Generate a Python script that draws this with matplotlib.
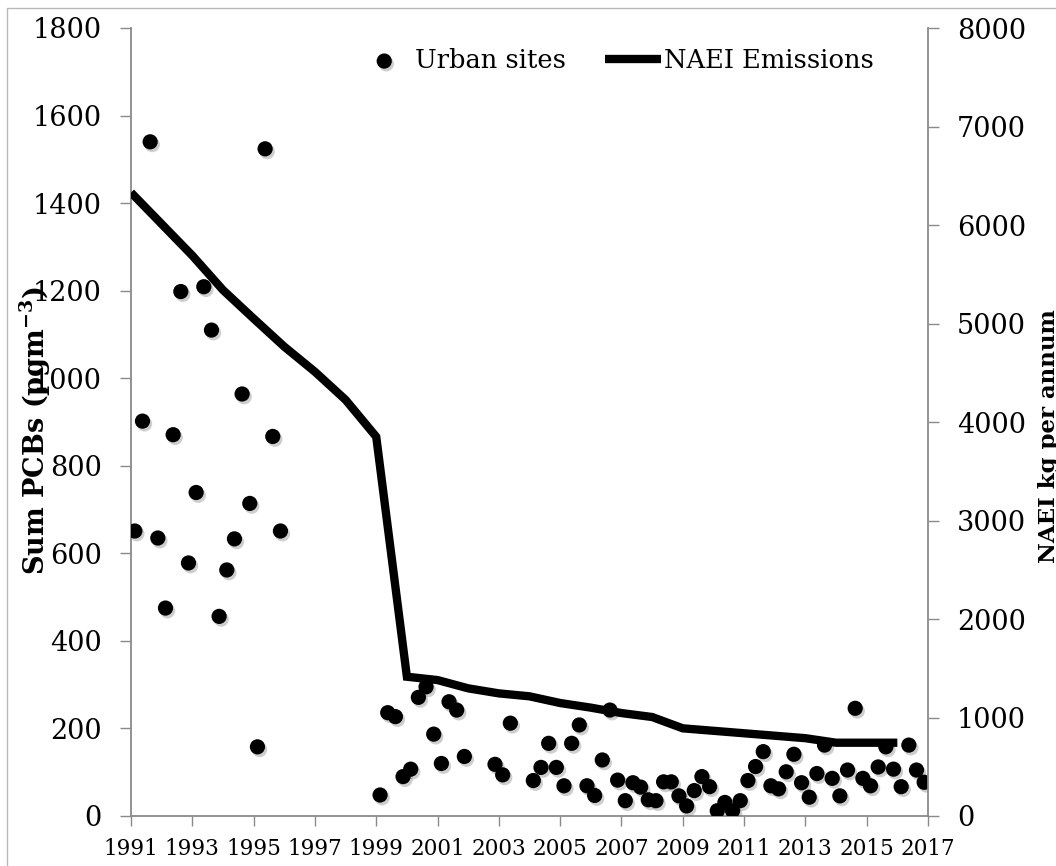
import matplotlib
matplotlib.use("Agg")
import matplotlib.pyplot as plt
import matplotlib.patheffects as pe
from matplotlib.patches import Rectangle

plt.rcParams['font.family'] = 'DejaVu Serif'
plt.rcParams['mathtext.fontset'] = 'dejavuserif'

# ── data ───────────────────────────────────────────────────────────────────────
# urban site samples, quarterly (decimal year of each quarter's midpoint)
urban_dates = [
    1991.125, 1991.375, 1991.625, 1991.875,
    1992.125, 1992.375, 1992.625, 1992.875,
    1993.125, 1993.375, 1993.625, 1993.875,
    1994.125, 1994.375, 1994.625, 1994.875,
    1995.125, 1995.375, 1995.625, 1995.875,
    1999.125, 1999.375, 1999.625, 1999.875,
    2000.125, 2000.375, 2000.625, 2000.875,
    2001.125, 2001.375, 2001.625, 2001.875,
    2002.875,
    2003.125, 2003.375,
    2004.125, 2004.375, 2004.625, 2004.875,
    2005.125, 2005.375, 2005.625, 2005.875,
    2006.125, 2006.375, 2006.625, 2006.875,
    2007.125, 2007.375, 2007.625, 2007.875,
    2008.125, 2008.375, 2008.625, 2008.875,
    2009.125, 2009.375, 2009.625, 2009.875,
    2010.125, 2010.375, 2010.625, 2010.875,
    2011.125, 2011.375, 2011.625, 2011.875,
    2012.125, 2012.375, 2012.625, 2012.875,
    2013.125, 2013.375, 2013.625, 2013.875,
    2014.125, 2014.375, 2014.625, 2014.875,
    2015.125, 2015.375, 2015.625, 2015.875,
    2016.125, 2016.375, 2016.625, 2016.875,
]
urban_pcb = [
    651, 902, 1540, 635,
    475, 871, 1198, 578,
    739, 1209, 1110, 456,
    562, 633, 964, 714,
    158, 1524, 867, 651,
    48, 236, 227, 90,
    107, 271, 295, 187,
    120, 261, 242, 136,
    118,
    94, 212,
    81, 111, 166, 111,
    69, 166, 208, 69,
    47, 128, 242, 82,
    35, 76, 66, 37,
    35, 78, 78, 46,
    23, 58, 90, 67,
    12, 31, 12, 35,
    81, 113, 147, 69,
    62, 101, 141, 76,
    43, 97, 162, 86,
    46, 105, 246, 86,
    69, 112, 158, 107,
    67, 162, 105, 77,
]

# NAEI emissions, kg per annum
naei_years = [1991, 1992, 1993, 1994, 1995, 1996, 1997, 1998, 1999, 2000,
              2001, 2002, 2003, 2004, 2005, 2006, 2007, 2008, 2009, 2010,
              2011, 2012, 2013, 2014, 2015, 2016]
naei_kg = [6330, 6010, 5690, 5340, 5050, 4765, 4510, 4225, 3850, 1414,
           1380, 1296, 1245, 1215, 1147, 1100, 1045, 1005, 890, 865,
           840, 815, 790, 744, 744, 744]

x_ticks = list(range(1991, 2018, 2))
left_ticks = list(range(0, 1801, 200))
right_ticks = list(range(0, 8001, 1000))

W, H = 1056, 866
AXIS_GREY = "#8a8a8a"

fig = plt.figure(figsize=(W / 100, H / 100), dpi=100)
ax = fig.add_axes([131 / W, 1 - 816 / H, 797 / W, 788 / H])
ax2 = ax.twinx()

# ── scatter (left axis) ────────────────────────────────────────────────────────
shadow = [pe.SimplePatchShadow(offset=(1.5, -2), shadow_rgbFace="0.45", alpha=0.35),
          pe.Normal()]
sc = ax.scatter(urban_dates, urban_pcb, s=120, color="black", linewidths=0,
                zorder=3, path_effects=shadow, label="Urban sites")

# ── emissions line (right axis) ───────────────────────────────────────────────
ln, = ax2.plot(naei_years, naei_kg, color="black", lw=6,
               solid_joinstyle="miter", solid_capstyle="butt",
               label="NAEI Emissions")

ax.set_xlim(1991, 2017)
ax.set_xticks(x_ticks)
ax.set_ylim(0, 1800)
ax.set_yticks(left_ticks)
ax2.set_ylim(0, 8000)
ax2.set_yticks(right_ticks)

for s in ["top", "right"]:
    ax.spines[s].set_visible(False)
for s in ["top", "left", "bottom"]:
    ax2.spines[s].set_visible(False)
for sp in [ax.spines["left"], ax.spines["bottom"], ax2.spines["right"]]:
    sp.set_color(AXIS_GREY)
    sp.set_linewidth(1.3)

ax.tick_params(axis="y", direction="out", length=8, width=1, color=AXIS_GREY,
               labelsize=19.5, pad=13)
ax.tick_params(axis="x", direction="out", length=7.5, width=1, color=AXIS_GREY,
               labelsize=15.5, pad=8)
ax2.tick_params(axis="y", direction="out", length=8, width=1, color=AXIS_GREY,
                labelsize=19.5, pad=13)

# axis titles sit where Excel put them (right one runs off the edge)
fig.text(18 / W, 1 - 430 / H, r"Sum PCBs (pgm$^{\mathbf{-3}}$)", rotation=90,
         ha="left", va="center", fontsize=19.5, fontweight="bold")
fig.text(1038 / W, 1 - 436 / H, "NAEI kg per annum", rotation=90,
         ha="left", va="center", fontsize=16.5, fontweight="bold")

ax2.legend(handles=[sc, ln], loc="center", bbox_to_anchor=(0.607, 0.959),
           ncol=2, frameon=False, fontsize=18.5, scatterpoints=1,
           handlelength=2.2, handletextpad=0.1, columnspacing=1.5)

# outer chart frame (only left and top edges are inside the picture)
fig.add_artist(Rectangle((7 / W, -0.1), 1.2, 1.1 - 8 / H, transform=fig.transFigure,
                         fill=False, edgecolor="#b8b8b8", lw=1))

fig.savefig("out.png", dpi=100)
print("Saved out.png")
